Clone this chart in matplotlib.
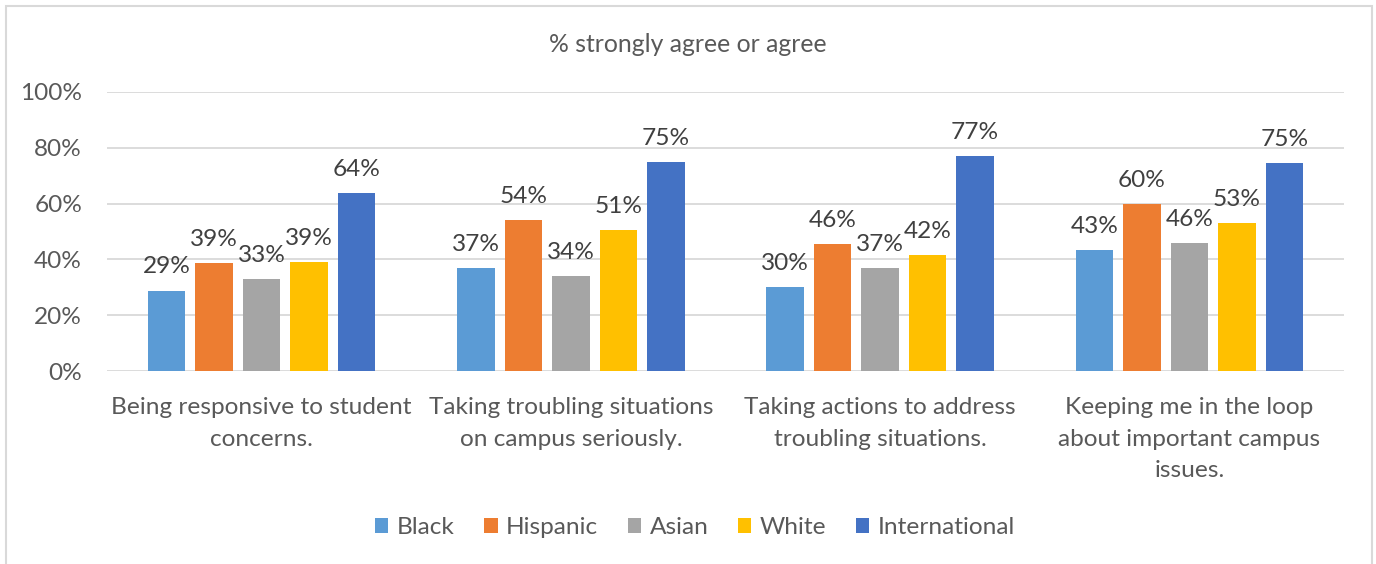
import numpy as np
import matplotlib
matplotlib.use("Agg")
import matplotlib.pyplot as plt
from matplotlib.patches import Rectangle

categories = ["Being responsive to student\nconcerns.",
              "Taking troubling situations\non campus seriously.",
              "Taking actions to address\ntroubling situations.",
              "Keeping me in the loop\nabout important campus\nissues."]
groups = ["Black", "Hispanic", "Asian", "White", "International"]
black = [28.8, 36.9, 30.1, 43.3]
hispanic = [38.6, 54.1, 45.5, 59.9]
asian = [32.9, 34.0, 36.9, 45.8]
white = [39.1, 50.5, 41.6, 53.0]
international = [63.9, 74.9, 77.1, 74.6]
series = [black, hispanic, asian, white, international]
colors = ["#5B9BD5", "#ED7D31", "#A5A5A5", "#FFC000", "#4472C4"]

plt.rcParams["font.family"] = ["Lato", "DejaVu Sans"]
FS = 17.6
TXT = "#595959"

fig = plt.figure(figsize=(13.76, 5.64), dpi=100)
ax = fig.add_axes([107 / 1376, 1 - 371 / 564, (1344 - 107) / 1376, (371 - 92) / 564])

# outer chart border (Excel-style frame, bottom cropped off)
fig.patches.append(Rectangle((6 / 1376, -0.05), (1372 - 6) / 1376, 1 - 6 / 564 + 0.05,
                             transform=fig.transFigure, fill=False,
                             edgecolor="#d9d9d9", linewidth=1.5))

x = np.arange(len(categories))
w = 0.121
step = 0.1536
for i, (vals, lab, c) in enumerate(zip(series, groups, colors)):
    bars = ax.bar(x + (i - 2) * step, vals, width=w, color=c, label=lab, zorder=3)
    ax.bar_label(bars, labels=[f"{int(np.floor(v + 0.5))}%" for v in vals], padding=9.5,
                 fontsize=FS, color="#404040")

ax.set_xlim(-0.5, 3.5)
ax.set_ylim(0, 100)
ax.set_yticks(range(0, 101, 20))
ax.set_yticklabels([f"{t}%" for t in range(0, 101, 20)], fontsize=FS, color=TXT)
ax.set_xticks(x)
ax.set_xticklabels(categories, fontsize=FS, color=TXT, linespacing=1.62)
ax.tick_params(axis="both", length=0)
ax.tick_params(axis="y", pad=18)
ax.tick_params(axis="x", pad=19)
ax.grid(axis="y", color="#d9d9d9", linewidth=1.3, zorder=0)
for s in ax.spines.values():
    s.set_visible(False)

fig.text(0.5, 1 - 44 / 564, "% strongly agree or agree", ha="center", va="center",
         fontsize=17.8, color=TXT)

fig.legend(loc="center", bbox_to_anchor=(695 / 1376, 1 - 528 / 564), ncol=5,
           frameon=False, fontsize=FS, labelcolor=TXT, handlelength=0.55,
           handleheight=0.55, handletextpad=0.35, columnspacing=1.2)

fig.savefig("out.png", dpi=100)
